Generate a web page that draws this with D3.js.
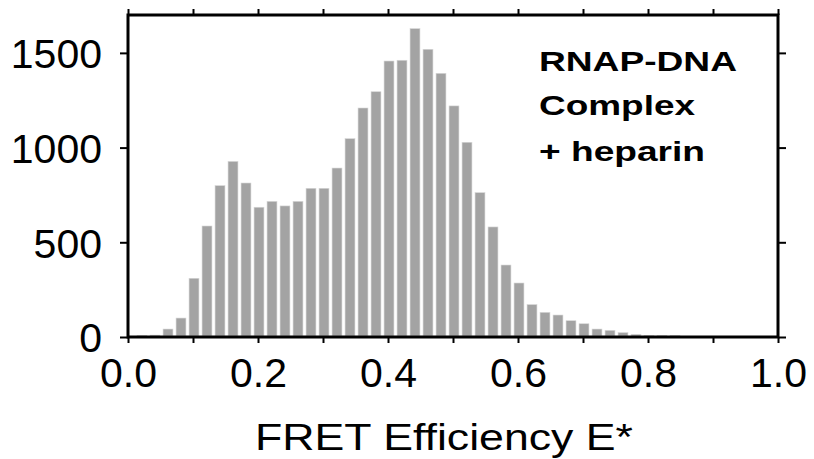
<!DOCTYPE html>
<html>
<head>
<meta charset="utf-8">
<script src="https://cdn.jsdelivr.net/npm/d3@7"></script>
<style>
    body { margin: 0; background: #fff; }
    svg { display: block; font-family: "Liberation Sans", Arial, sans-serif; }
</style>
</head>
<body>
<svg id="canvas" width="814" height="459"></svg>
<script>
(function () {

    // Histogram bin centres (FRET E*) and counts.
    const binCenters = [0.02, 0.04, 0.06, 0.08, 0.10, 0.12, 0.14, 0.16, 0.18, 0.20,
        0.22, 0.24, 0.26, 0.28, 0.30, 0.32, 0.34, 0.36, 0.38, 0.40,
        0.42, 0.44, 0.46, 0.48, 0.50, 0.52, 0.54, 0.56, 0.58, 0.60,
        0.62, 0.64, 0.66, 0.68, 0.70, 0.72, 0.74, 0.76, 0.78, 0.80,
        0.82, 0.84];
    const counts = [9, 10, 42, 100, 310, 586, 799, 927, 813, 685,
        716, 692, 716, 785, 785, 892, 1047, 1209, 1295, 1457,
        1461, 1628, 1519, 1392, 1220, 1028, 762, 581, 380, 285,
        171, 130, 116, 86, 70, 42, 35, 23, 14, 8,
        9, 9];
    const BIN_WIDTH = 0.02;

    const xTicks = [0, 0.1, 0.2, 0.3, 0.4, 0.5, 0.6, 0.7, 0.8, 0.9, 1.0];
    const xLabelTicks = [0, 0.2, 0.4, 0.6, 0.8, 1.0];
    const yTicks = [0, 500, 1000, 1500];
    const annotation = ["RNAP-DNA", "Complex", "+ heparin"];
    const xTitle = "FRET Efficiency E*";

    let padding = { top: 15, bottom: 122, left: 128, right: 36 };

    let svg = d3.select("#canvas");
    let width = +svg.attr("width") - padding.left - padding.right;
    let height = +svg.attr("height") - padding.top - padding.bottom;

    let xScale = d3.scaleLinear().domain([0, 1]).range([0, width]);
    let yScale = d3.scaleLinear().domain([0, 1700]).range([height, 0]);

    let g = svg.append("g")
        .attr("transform", "translate(" + padding.left + ", " + padding.top + ")");

    // Bars.
    let barW = xScale(BIN_WIDTH) - xScale(0);
    g.selectAll("rect.bar")
        .data(binCenters.map((c, i) => ({ c: c, n: counts[i] })))
        .enter().append("rect")
        .attr("class", "bar")
        .attr("x", d => xScale(d.c) - barW * 0.38 + 1)
        .attr("width", barW * 0.76)
        .attr("y", d => yScale(d.n))
        .attr("height", d => Math.max(0, yScale(0) - yScale(d.n) - 1))
        .attr("fill", "#a3a3a3")
        .attr("stroke", "#d6d6d6")
        .attr("stroke-width", 0.6);

    // Axes, ticks pointing out on all four sides.
    let fmtX = d => xLabelTicks.some(v => Math.abs(v - d) < 1e-9) ? d3.format(".1f")(d) : "";

    let bottom = g.append("g")
        .attr("transform", "translate(0, " + height + ")")
        .call(d3.axisBottom(xScale).tickValues(xTicks).tickSize(6).tickPadding(14).tickFormat(fmtX));
    let top = g.append("g")
        .call(d3.axisTop(xScale).tickValues(xTicks).tickSize(6).tickFormat(""));
    let left = g.append("g")
        .call(d3.axisLeft(yScale).tickValues(yTicks).tickSize(8).tickPadding(18).tickFormat(d3.format("d")));
    let right = g.append("g")
        .attr("transform", "translate(" + width + ", 0)")
        .call(d3.axisRight(yScale).tickValues(yTicks).tickSize(8).tickFormat(""));

    [bottom, top, left, right].forEach(a => {
        a.select(".domain").remove();
        a.selectAll(".tick line").attr("stroke", "#000").attr("stroke-width", 2);
        a.selectAll("text")
            .attr("fill", "#000")
            .attr("font-size", 41)
            .attr("font-family", "'Liberation Sans', Arial, sans-serif");
    });
    left.selectAll("text").attr("dy", "0.36em");
    bottom.selectAll("text").attr("dy", "0.72em");

    // Frame.
    g.append("rect")
        .attr("x", 0).attr("y", 0)
        .attr("width", width).attr("height", height)
        .attr("fill", "none")
        .attr("stroke", "#000")
        .attr("stroke-width", 3);

    // Axis title (the original lettering is a little wider than Arial).
    svg.append("text")
        .attr("x", 255)
        .attr("y", 450)
        .attr("font-size", 37)
        .attr("fill", "#000")
        .attr("textLength", 378)
        .attr("lengthAdjust", "spacingAndGlyphs")
        .text(xTitle);

    // Annotation.
    const annWidths = [198, 156, 166];
    const annY = [71, 115, 161];
    let ann = svg.append("text")
        .attr("font-size", 28)
        .attr("font-weight", "bold")
        .attr("fill", "#000");
    annotation.forEach((t, i) => {
        ann.append("tspan")
            .attr("x", 539)
            .attr("y", annY[i])
            .attr("textLength", annWidths[i])
            .attr("lengthAdjust", "spacingAndGlyphs")
            .text(t);
    });

})();
</script>
</body>
</html>
